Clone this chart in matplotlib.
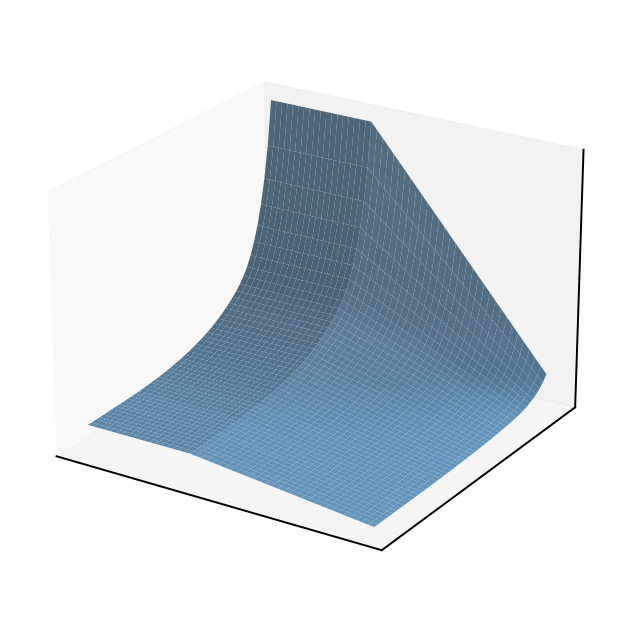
import matplotlib
matplotlib.use('Agg')
import matplotlib.pyplot as plt
from matplotlib.colors import LightSource, LinearSegmentedColormap
import numpy as np

# surface height along the back edge, front to back
y_profile = [0.098, 0.098, 0.099, 0.099, 0.100, 0.101, 0.102, 0.103, 0.103, 0.104,
             0.105, 0.106, 0.107, 0.108, 0.110, 0.112, 0.114, 0.116, 0.118, 0.121,
             0.124, 0.127, 0.131, 0.135, 0.139, 0.144, 0.149, 0.155, 0.161, 0.168,
             0.175, 0.183, 0.192, 0.202, 0.213, 0.225, 0.238, 0.252, 0.268, 0.285,
             0.305, 0.330, 0.360, 0.400, 0.450, 0.510, 0.590, 0.690, 0.820, 1.000]

# relative height along x, flat up to the crease then falling
x_profile = [1.000, 1.000, 1.000, 1.000, 1.000, 1.000, 1.000, 1.000, 1.000, 1.000,
             1.000, 1.000, 1.000, 1.000, 1.000, 1.000, 1.000, 1.000, 1.000, 0.972,
             0.944, 0.916, 0.888, 0.860, 0.832, 0.804, 0.776, 0.748, 0.720, 0.692,
             0.664, 0.636, 0.608, 0.580, 0.552, 0.524, 0.496, 0.468, 0.440, 0.412,
             0.384, 0.356, 0.328, 0.300, 0.272, 0.244, 0.216, 0.188, 0.160, 0.132]

x = np.linspace(0, 1, len(x_profile))
y = np.linspace(0, 1, len(y_profile))
X, Y = np.meshgrid(x, y)
Z = np.outer(y_profile, x_profile)

fade = LinearSegmentedColormap.from_list('fade', [(0, '#68a0ca'), (0.13, '#6a9cc2'), (0.22, '#7dacd2'),
                                                  (0.5, '#8fbde0'), (1, '#98c8ec')])

fig = plt.figure(figsize=(6.23, 6.23), dpi=100)
ax = fig.add_axes([0, 0, 1, 1], projection='3d')
ax.view_init(elev=23, azim=-57.5)
# z is stretched three times so the shading is as strong as in the reference
ax.plot_surface(X, Y, Z * 3, facecolors=fade(Z), rstride=1, cstride=1, linewidth=0,
                lightsource=LightSource(azdeg=60, altdeg=38))
ax.set_xticks([])
ax.set_yticks([])
ax.set_zticks([])
ax.set_xlim(-0.09, 1.05)
ax.set_ylim(-0.04, 1.10)
ax.set_zlim(-0.12, 3.05)
ax.set_box_aspect((4, 4, 2.97), zoom=0.95)
for axis in (ax.xaxis, ax.yaxis, ax.zaxis):
    axis.line.set_linewidth(1.4)
fig.savefig('out.png', dpi=100)
